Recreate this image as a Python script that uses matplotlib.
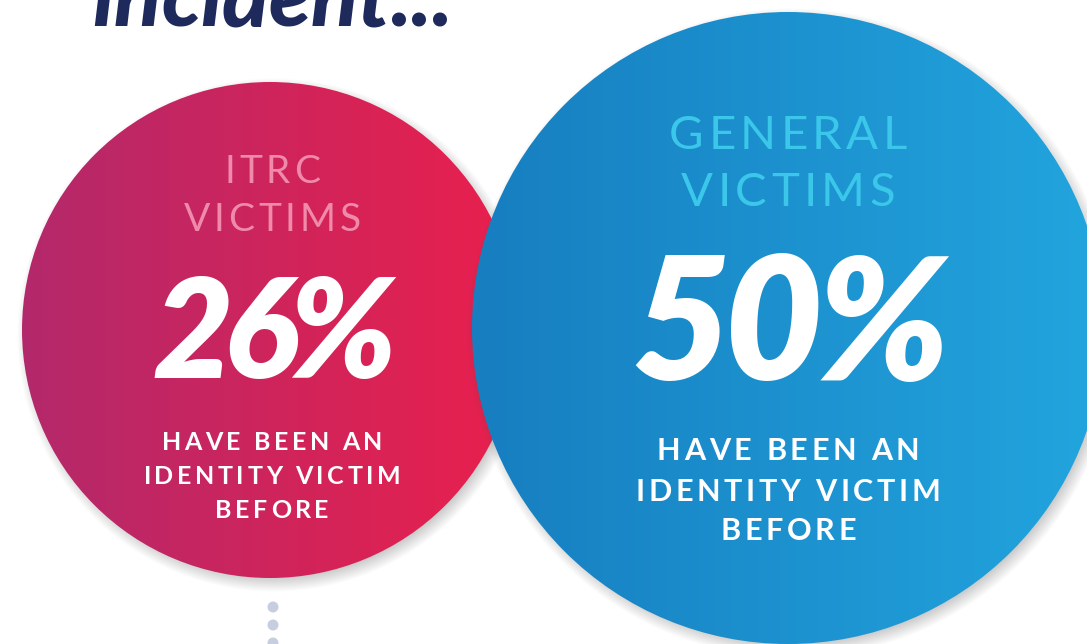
import numpy as np
import matplotlib
matplotlib.use("Agg")
import matplotlib.pyplot as plt
from matplotlib.patches import Circle
from matplotlib.colors import LinearSegmentedColormap
from matplotlib.font_manager import FontProperties, findfont
from matplotlib.ft2font import FT2Font

# ------------------------------------------------------------
# Data
# ------------------------------------------------------------
title = "incident..."
groups = ["ITRC\nVICTIMS", "GENERAL\nVICTIMS"]
percents = [26, 50]
caption = ["HAVE BEEN AN", "IDENTITY VICTIM", "BEFORE"]

W, H = 1087, 644

# circle geometry (pixels) and styles
circles = [
    dict(cx=270, cy=330, r=248, c0="#b3296b", c1="#e9204d", head="#ef8aab",
         head_size=28, head_base=[183, 231], head_w=177,
         big_size=100, big_base=378, big_w=244,
         cap_size=18, cap_base=[450, 484, 518], cap_w=257, tx=272),
    dict(cx=788, cy=328, r=316, c0="#177ec0", c1="#22a5de", head="#3ac7ea",
         head_size=34, head_base=[149, 206], head_w=214,
         big_size=123, big_base=380, big_w=318,
         cap_size=22, cap_base=[460, 501, 540], cap_w=305, tx=788),
]


def advances(s, prop, size):
    font = FT2Font(findfont(prop))
    font.set_size(size, 100)
    return [font.load_char(ord(c)).linearHoriAdvance / 65536 for c in s]


def spaced_text(ax, cx, y, s, size, color, weight, style="normal",
                track=None, target_w=None, zorder=3):
    prop = FontProperties(family="Lato", weight=weight, style=style, size=size)
    adv = advances(s, prop, size)
    if track is None:
        track = (target_w - sum(adv)) / max(len(s) - 1, 1)
    total = sum(adv) + track * (len(s) - 1)
    x = cx - total / 2
    for ch, a in zip(s, adv):
        ax.text(x, y, ch, fontproperties=prop, color=color,
                ha="left", va="baseline", zorder=zorder)
        x += a + track
    return track


def tracking_for(s, size, weight, target_w, style="normal"):
    prop = FontProperties(family="Lato", weight=weight, style=style, size=size)
    adv = advances(s, prop, size)
    return (target_w - sum(adv)) / max(len(s) - 1, 1)


def shadow(ax, cx, cy, r, zorder, dx=4, dy=5, blur=9, alpha=0.35):
    yy, xx = np.mgrid[0:H, 0:W] + 0.5
    d = np.hypot(xx - (cx + dx), yy - (cy + dy))
    a = np.clip((r + blur - d) / (2 * blur), 0, 1) * alpha
    img = np.zeros((H, W, 4))
    img[..., :3] = 0.3
    img[..., 3] = a
    ax.imshow(img, extent=[0, W, H, 0], interpolation="bilinear", zorder=zorder)


fig = plt.figure(figsize=(W / 100, H / 100), dpi=100)
ax = fig.add_axes([0, 0, 1, 1])
ax.axis("off")

# title, cut off at the top
spaced_text(ax, 272, 26, title, 62, "#1f2a5c", 900, style="italic", track=0)

# dots under the left circle
for y in [607, 625, 643]:
    ax.add_patch(Circle((273, y), 5.5, color="#c7cee0", lw=0, zorder=1))

z = 2
for c, grp, pct in zip(circles, groups, percents):
    shadow(ax, c["cx"], c["cy"], c["r"], z)
    cmap = LinearSegmentedColormap.from_list("g", [c["c0"], c["c1"]])
    grad = cmap(np.linspace(0, 1, 256))[None, :, :]
    clip = Circle((c["cx"], c["cy"]), c["r"], transform=ax.transData)
    im = ax.imshow(grad, extent=[c["cx"] - c["r"], c["cx"] + c["r"],
                                 c["cy"] + c["r"], c["cy"] - c["r"]],
                   interpolation="bilinear", zorder=z + 1)
    im.set_clip_path(clip)

    lines = grp.split("\n")
    tr = tracking_for(lines[1], c["head_size"], "normal", c["head_w"])
    for line, yb in zip(lines, c["head_base"]):
        spaced_text(ax, c["tx"], yb, line, c["head_size"], c["head"], "normal",
                    track=tr, zorder=z + 2)

    spaced_text(ax, c["tx"] + 2, c["big_base"], f"{pct}%", c["big_size"],
                "white", 800, style="italic", target_w=c["big_w"],
                zorder=z + 2)

    tr = tracking_for(caption[1], c["cap_size"], "bold", c["cap_w"])
    for line, yb in zip(caption, c["cap_base"]):
        spaced_text(ax, c["tx"], yb, line, c["cap_size"], "white", "bold",
                    track=tr, zorder=z + 2)
    z += 3

ax.set_xlim(0, W)
ax.set_ylim(H, 0)
ax.set_aspect("auto")
fig.savefig("out.png", dpi=100, facecolor="white")
